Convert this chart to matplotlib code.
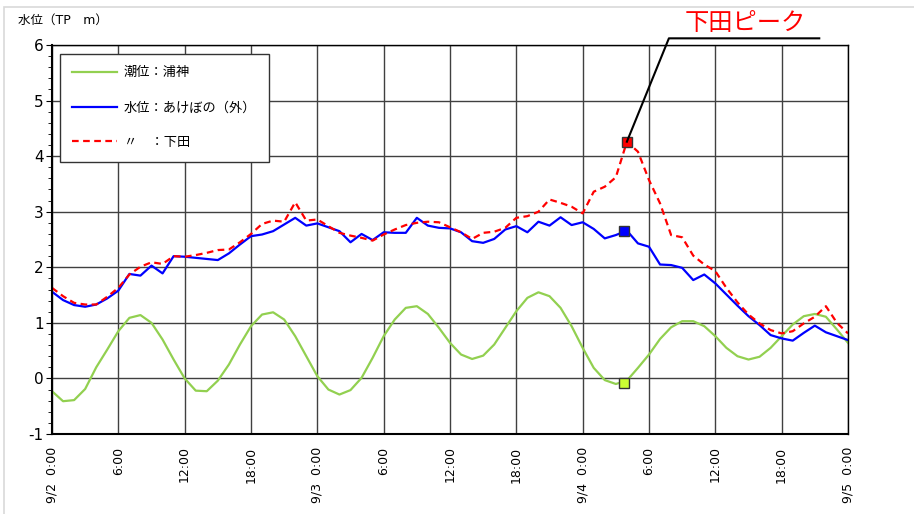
import numpy as np
import matplotlib
matplotlib.use("Agg")
import matplotlib.pyplot as plt
from matplotlib.patches import Rectangle

plt.rcParams['font.family'] = ['DejaVu Sans', 'Noto Sans CJK JP']
plt.rcParams['axes.unicode_minus'] = False

# 経過時間（9/2 0:00 からの時間）
hours = np.arange(0, 73)

# 潮位：浦神
tide_uragami = [-0.23, -0.41, -0.39, -0.19, 0.20, 0.52, 0.85, 1.09, 1.14, 1.00,
                0.70, 0.34, 0.00, -0.22, -0.23, -0.04, 0.25, 0.61, 0.94, 1.15,
                1.19, 1.06, 0.76, 0.40, 0.04, -0.20, -0.29, -0.21, 0.01, 0.37,
                0.76, 1.06, 1.27, 1.30, 1.16, 0.91, 0.64, 0.43, 0.35, 0.41,
                0.61, 0.91, 1.21, 1.45, 1.55, 1.48, 1.27, 0.94, 0.55, 0.19,
                -0.03, -0.10, -0.04, 0.19, 0.43, 0.71, 0.92, 1.03, 1.03, 0.94,
                0.76, 0.55, 0.40, 0.34, 0.39, 0.55, 0.76, 0.97, 1.12, 1.16,
                1.11, 0.88, 0.64]

# 水位：あけぼの（外）
level_akebono = [1.56, 1.41, 1.32, 1.29, 1.33, 1.44, 1.58, 1.88, 1.85, 2.03,
                 1.89, 2.20, 2.19, 2.17, 2.15, 2.13, 2.25, 2.41, 2.56, 2.59,
                 2.65, 2.77, 2.89, 2.75, 2.79, 2.72, 2.65, 2.45, 2.60, 2.49,
                 2.63, 2.62, 2.62, 2.89, 2.75, 2.71, 2.70, 2.63, 2.47, 2.44,
                 2.51, 2.68, 2.74, 2.63, 2.82, 2.75, 2.90, 2.76, 2.81, 2.69,
                 2.52, 2.58, 2.66, 2.43, 2.37, 2.05, 2.04, 1.99, 1.77, 1.87,
                 1.71, 1.51, 1.31, 1.12, 0.96, 0.78, 0.72, 0.68, 0.82, 0.95,
                 0.83, 0.76, 0.69]

# 水位：下田
level_shimoda = [1.63, 1.48, 1.36, 1.33, 1.33, 1.47, 1.63, 1.87, 2.01, 2.09,
                 2.06, 2.20, 2.19, 2.22, 2.26, 2.31, 2.32, 2.45, 2.60, 2.78,
                 2.84, 2.82, 3.17, 2.84, 2.86, 2.74, 2.62, 2.57, 2.53, 2.48,
                 2.59, 2.68, 2.76, 2.80, 2.82, 2.81, 2.72, 2.63, 2.51, 2.62,
                 2.64, 2.71, 2.89, 2.92, 3.00, 3.22, 3.16, 3.09, 2.97, 3.36,
                 3.45, 3.62, 4.26, 4.08, 3.57, 3.15, 2.58, 2.54, 2.21, 2.05,
                 1.93, 1.63, 1.37, 1.15, 0.99, 0.87, 0.81, 0.85, 0.99, 1.11,
                 1.30, 1.00, 0.81]

# 下田ピーク時の各地点の値
peak_hours = [51.7, 51.7, 52.0]
peak_values = [-0.09, 2.65, 4.26]
peak_colors = ['#CCFF33', '#0000FF', '#FF0000']

tick_hours = np.arange(0, 73, 6)
tick_labels = ['9/2  0:00', '6:00', '12:00', '18:00',
               '9/3  0:00', '6:00', '12:00', '18:00',
               '9/4  0:00', '6:00', '12:00', '18:00', '9/5  0:00']

fig = plt.figure(figsize=(9.14, 5.14), dpi=100)
fig.patches.append(Rectangle((4 / 914, -0.01), 1.0, 1 - 7 / 514 + 0.01,
                             transform=fig.transFigure, fill=False,
                             edgecolor='#d9d9d9', linewidth=1.2))
ax = fig.add_axes([52 / 914, 80 / 514, 796 / 914, 389 / 514])

ax.plot(hours, tide_uragami, color='#92D050', lw=1.6, label='潮位：浦神')
ax.plot(hours, level_akebono, color='#0000FF', lw=1.6, label='水位：あけぼの（外）')
ax.plot(hours, level_shimoda, color='#FF0000', lw=1.6, ls=(0, (3, 2)),
        label='〃　：下田')
for px, py, c in zip(peak_hours, peak_values, peak_colors):
    ax.plot(px, py, 's', ms=7.5, mfc=c, mec='#333333', mew=1, zorder=5)

ax.set_xlim(0, 72)
ax.set_ylim(-1, 6)
ax.set_xticks(tick_hours)
ax.set_xticklabels(tick_labels, rotation=90, va='top', ha='center', fontsize=9)
ax.set_yticks(range(-1, 7))
ax.set_yticks(np.arange(-1, 6.01, 0.2), minor=True)
ax.tick_params(axis='x', length=0, pad=9)
ax.tick_params(axis='y', which='major', length=4, labelsize=11, pad=2)
ax.tick_params(axis='y', which='minor', length=3)
ax.grid(True, which='major', color='#404040', lw=1)
for s in ax.spines.values():
    s.set_color('#000000')
    s.set_linewidth(1)
ax.spines['left'].set_linewidth(1.5)
ax.spines['bottom'].set_linewidth(1.5)

leg = ax.legend(loc='upper left', bbox_to_anchor=(0.010, 0.977),
                borderaxespad=0, fontsize=9.5, labelspacing=1.65,
                handlelength=3.4, handletextpad=0.5, borderpad=0.95,
                fancybox=False, framealpha=1, edgecolor='#333333')
leg.get_frame().set_linewidth(1)

fig.text(18 / 914, 1 - 20 / 514, '水位（TP　m）', fontsize=9, va='center', ha='left')

# 下田ピークの引出線
ax.plot([52.0, 55.8, 69.4], [4.26, 6.12, 6.12], color='black', lw=1.5,
        clip_on=False, zorder=6)
ax.text(62.7, 6.40, '下田ピーク', color='#FF0000', fontsize=17.5,
        ha='center', va='center', family=['Noto Sans CJK JP'])

fig.savefig('out.png', dpi=100)
